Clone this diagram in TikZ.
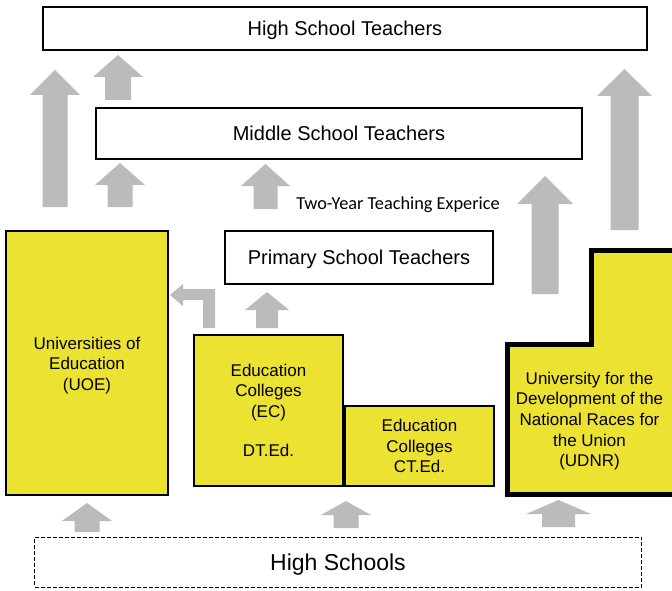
\documentclass[tikz,border=0pt]{standalone}
\usepackage{fontspec}
\setmainfont{Liberation Sans}
\newfontfamily\calib{Carlito}
\begin{document}
\begin{tikzpicture}[x=1pt,y=-1pt,
  box/.style={draw=black,line width=1.3pt,fill=white,inner sep=0pt,align=center,text height=14.4pt,text depth=0pt,font=\fontsize{20}{24}\selectfont},
  ybox/.style={draw=black,line width=1.3pt,fill=uyellow,inner sep=0pt,align=center,font=\fontsize{17}{20.5}\selectfont},
  arr/.style={fill=agray,draw=none}]
\definecolor{uyellow}{RGB}{236,226,50}
\definecolor{agray}{RGB}{187,187,187}
\clip (0,0) rectangle (672,591);
\fill[white] (0,0) rectangle (672,591);
\newcommand\uparr[6]{%
  \fill[arr] ({#1-#2},#6) -- ({#1-#2},#5) -- ({#1-#3},#5) -- (#1,#4) -- ({#1+#3},#5) -- ({#1+#2},#5) -- ({#1+#2},#6) -- cycle;}
% boxes
\node[box,minimum width=604pt,minimum height=43pt] (hst) at (345,28.5) {High School Teachers};
\node[box,minimum width=486pt,minimum height=51pt] (mst) at (339,133.5) {Middle School Teachers};
\node[box,minimum width=268pt,minimum height=53pt] (pst) at (359,257.5) {Primary School Teachers};
\draw[line width=1.3pt,fill=uyellow] (6,231) rectangle (168,495);
\node[align=center,inner sep=0pt,font=\fontsize{17}{20.5}\selectfont] (uoe) at (87,365.5) {Universities of\\Education\\(UOE)};
\node[ybox,minimum width=149pt,minimum height=151pt] (ec) at (268.5,410.5) {Education\\Colleges\\(EC)\\[19pt]DT.Ed.};
\node[ybox,minimum width=149pt,minimum height=80pt] (ct) at (419.5,446) {Education\\Colleges\\CT.Ed.};
\draw[line width=5pt,fill=uyellow,line join=miter] (507.5,494.5) -- (507.5,344.5) -- (591.5,344.5) -- (591.5,250.5) -- (690,250.5) -- (690,494.5) -- cycle;
\node[align=center,inner sep=0pt,font=\fontsize{17}{20.7}\selectfont] (udnr) at (589.5,421) {University for the\\Development of the\\National Races for\\the Union\\(UDNR)};
\node[draw=black,line width=1pt,dash pattern=on 4pt off 2pt,minimum width=607pt,minimum height=50pt,inner sep=0pt,text height=16.6pt,text depth=0pt,font=\fontsize{23}{27}\selectfont] (hs) at (338,562) {High Schools};
\node[inner sep=0pt,font=\calib\fontsize{18.3}{22}\selectfont] (exp) at (398,205) {Two-Year Teaching Experice};
% arrows
\uparr{55}{12.5}{25}{70}{95}{207}
\uparr{118}{13}{25}{55}{77}{100}
\uparr{120}{12.5}{25}{163}{185}{207}
\uparr{265.5}{12}{24.5}{164}{186}{209}
\uparr{545}{13.5}{28}{176}{204}{294}
\uparr{624.5}{14}{27.5}{69}{96}{230}
\uparr{267}{11}{22}{292}{310}{328}
\uparr{87}{12.5}{25}{503}{521}{532}
\uparr{346}{12.5}{25}{501}{515}{528}
\uparr{558.5}{16.5}{32.5}{500}{514}{527}
\fill[arr] (170,295) -- (183,284) -- (183,289) -- (215,289) -- (215,328) -- (203,328) -- (203,300) -- (183,300) -- (183,306) -- cycle;
\end{tikzpicture}
\end{document}
